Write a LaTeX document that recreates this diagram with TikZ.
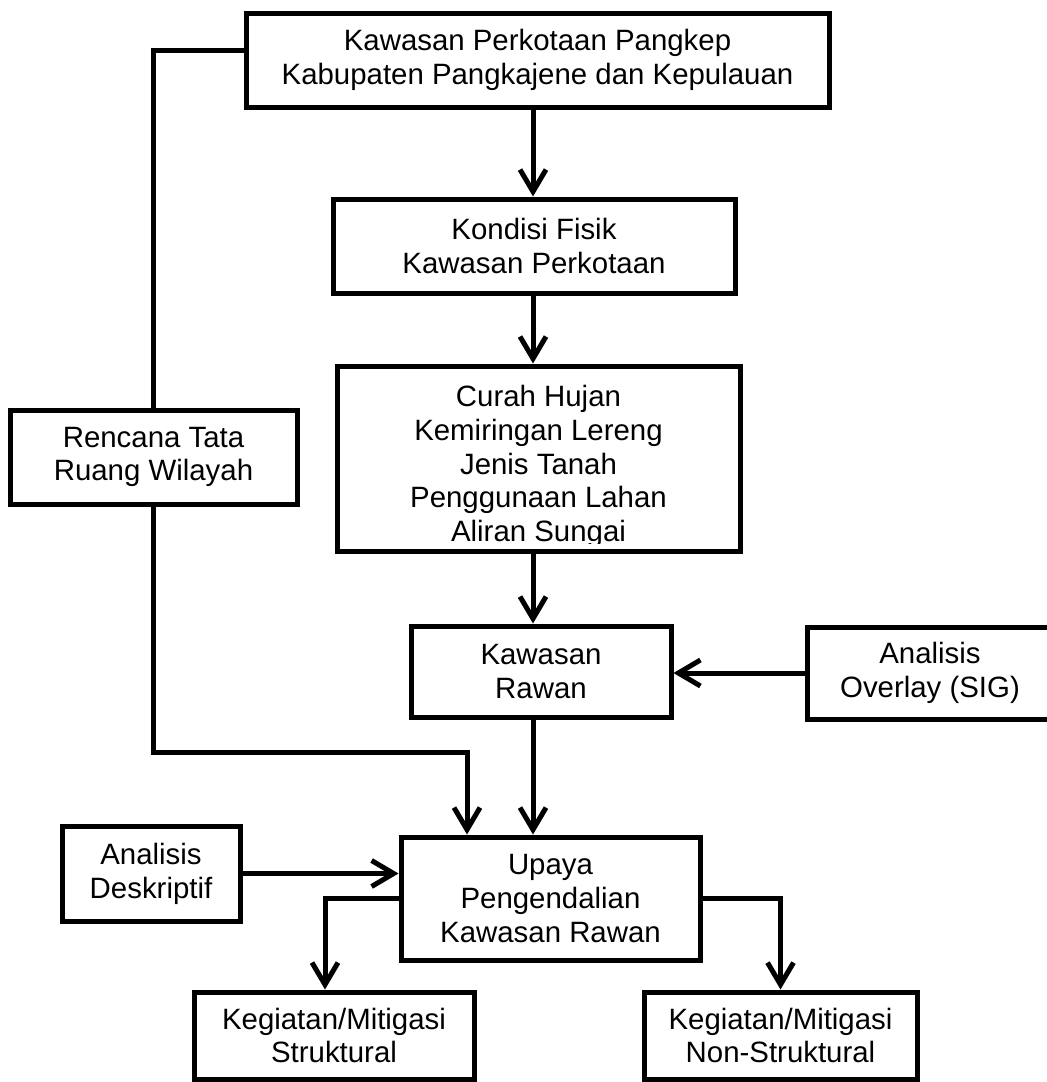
\documentclass[tikz,border=0pt]{standalone}
\usepackage{fontspec}
\setmainfont{Liberation Sans}
\usetikzlibrary{arrows.meta}

\begin{document}
\begin{tikzpicture}[
  x=0.5pt, y=-0.5pt,
  huruf/.style={font=\fontsize{14.7}{16.9}\selectfont, align=center},
  kotak/.style={huruf, draw, line width=2.5pt, inner sep=0pt},
  garis/.style={line width=2.5pt},
  panah/.style={garis, -{Straight Barb[length=11pt,width=13pt]}},
]

\useasboundingbox (0,0) rectangle (1046,1082);

\node [kotak, minimum width=291.5pt, minimum height=47pt] (kota) at (537.5,60)
  {Kawasan Perkotaan Pangkep\\Kabupaten Pangkajene dan Kepulauan};
\node [kotak, minimum width=201pt, minimum height=47pt] (fisik) at (534,246)
  {Kondisi Fisik\\Kawasan Perkotaan};

\begin{scope}
\clip (339.5,368.5) rectangle (737.5,543);
\node [huruf, inner sep=0pt, text depth=0pt, anchor=south] (faktorteks) at (538.5,542)
  {Curah Hujan\\Kemiringan Lereng\\Jenis Tanah\\Penggunaan Lahan\\Aliran Sungai};
\end{scope}
\node [kotak, minimum width=201.5pt, minimum height=92.5pt] (faktor) at (538.5,458.5) {};

\node [kotak, minimum width=143.5pt, minimum height=47pt] (rtrw) at (153.5,457)
  {Rencana Tata\\Ruang Wilayah};
\node [kotak, minimum width=130pt, minimum height=45.5pt] (rawan) at (541,671.5)
  {Kawasan\\Rawan};
\node [kotak, minimum width=123pt, minimum height=46pt] (overlay) at (930,673)
  {Analisis\\Overlay (SIG)};
\node [kotak, minimum width=149.5pt, minimum height=61.5pt] (upaya) at (550.5,898.5)
  {Upaya\\Pengendalian\\Kawasan Rawan};
\node [kotak, minimum width=89pt, minimum height=47.5pt] (deskriptif) at (151,873.5)
  {Analisis\\Deskriptif};
\node [kotak, minimum width=140pt, minimum height=43.5pt] (struktural) at (334,1035.5)
  {Kegiatan/Mitigasi\\Struktural};
\node [kotak, minimum width=136.5pt, minimum height=43.5pt] (nonstruktural) at (780.5,1035.5)
  {Kegiatan/Mitigasi\\Non-Struktural};

\coordinate (poros) at (533,0);
\coordinate (tekuk) at (467,752);

\draw [panah] (kota.south -| poros) -- (fisik.north -| poros);
\draw [panah] (fisik.south -| poros) -- (faktor.north -| poros);
\draw [panah] (faktor.south -| poros) -- (rawan.north -| poros);
\draw [panah] (rawan.south -| poros) -- (upaya.north -| poros);
\draw [panah] (overlay.west) -- (overlay.west -| rawan.east);
\draw [panah] (deskriptif.east) -- (deskriptif.east -| upaya.west);

\draw [garis] ([yshift=5pt]kota.west) -| (rtrw.north);
\draw [panah] (rtrw.south) |- (tekuk) -- (tekuk |- upaya.north);

\draw [panah] (upaya.west) -| ([xshift=-4.5pt]struktural.north);
\draw [panah] (upaya.east) -| (nonstruktural.north);

\end{tikzpicture}
\end{document}
